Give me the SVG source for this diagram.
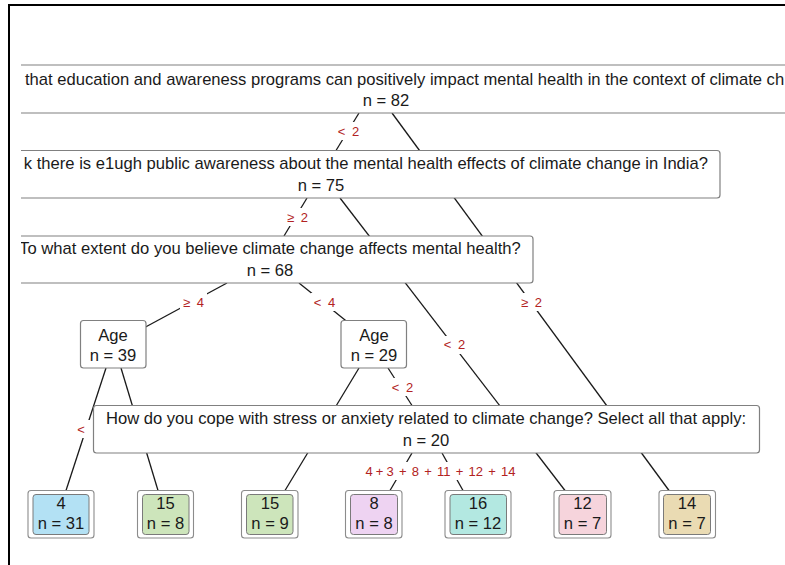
<svg xmlns="http://www.w3.org/2000/svg" width="785" height="565" viewBox="0 0 785 565">
<style>
.nb{fill:#fff;stroke:#808080;stroke-width:1.2}
.lo{fill:#fff;stroke:#8c8c8c;stroke-width:1.1}
.li{stroke:#7a7a7a;stroke-width:1}
.t{font-family:"Liberation Sans",Arial,sans-serif;font-size:16.6px;fill:#1a1a1a;text-anchor:middle}
.lab{font-family:"Liberation Sans",Arial,sans-serif;font-size:13px;fill:#b22222;text-anchor:middle;word-spacing:3px}
.edges line{stroke:#1a1a1a;stroke-width:1.3}
.lbg{fill:#fff}
</style>
<defs>
<clipPath id="panel"><rect x="21" y="0" width="764" height="565"/></clipPath>
</defs>
<rect x="0" y="0" width="785" height="565" fill="#fff"/>
<rect x="9" y="5" width="800" height="600" fill="none" stroke="#000" stroke-width="2"/>
<g clip-path="url(#panel)">
<g id="connectors" class="edges">
<line x1="359" y1="113" x2="336" y2="150.5"/>
<line x1="392" y1="113" x2="669" y2="490.5"/>
<line x1="307" y1="198" x2="284" y2="236"/>
<line x1="340" y1="198" x2="565" y2="490.5"/>
<line x1="227" y1="283" x2="140" y2="330"/>
<line x1="299" y1="283" x2="350" y2="324"/>
<line x1="106" y1="368" x2="66" y2="490.5"/>
<line x1="121" y1="368" x2="158" y2="490.5"/>
<line x1="359" y1="368" x2="285" y2="490.5"/>
<line x1="388" y1="368" x2="412" y2="405.5"/>
<line x1="412" y1="453" x2="390" y2="490.5"/>
<line x1="442" y1="453" x2="463" y2="490.5"/>
</g>
<g id="edge-labels">
<rect class="lbg" x="335" y="122" width="27" height="18"/>
<text class="lab" x="348.5" y="135.5">&lt; 2</text>
<rect class="lbg" x="518" y="293" width="27" height="18"/>
<text class="lab" x="531.5" y="306.5">≥ 2</text>
<rect class="lbg" x="284" y="208" width="27" height="18"/>
<text class="lab" x="297.5" y="221.5">≥ 2</text>
<rect class="lbg" x="441" y="336" width="27" height="18"/>
<text class="lab" x="454.5" y="349">&lt; 2</text>
<rect class="lbg" x="180" y="293" width="27" height="18"/>
<text class="lab" x="193.5" y="306.5">≥ 4</text>
<rect class="lbg" x="311" y="293" width="27" height="18"/>
<text class="lab" x="324.5" y="306.5">&lt; 4</text>
<rect class="lbg" x="389" y="378" width="27" height="18"/>
<text class="lab" x="402.5" y="391.5">&lt; 2</text>
<rect class="lbg" x="72" y="420" width="28" height="18"/>
<text class="lab" x="81" y="433.5">&lt;</text>
<rect class="lbg" x="363" y="462" width="40" height="18"/>
<text class="lab" x="365.5" y="476" style="text-anchor:start;word-spacing:-0.5px">4 +</text>
<rect class="lbg" x="383.5" y="462" width="136" height="18"/>
<text class="lab" x="451" y="476" style="word-spacing:1.6px">3 + 8 + 11 + 12 + 14</text>
</g>
<g id="node-root">
<rect class="nb" x="0" y="65" width="800" height="48" rx="3"/>
<text class="t" x="25" y="84.5" style="text-anchor:start">that education and awareness programs can positively impact mental health in the context of climate ch</text>
<text class="t" x="386" y="106">n = 82</text>
</g>
<g id="node-2">
<rect class="nb" x="-80" y="150.5" width="800" height="47.5" rx="3"/>
<text class="t" x="708" y="169" style="text-anchor:end">k there is e1ugh public awareness about the mental health effects of climate change in India?</text>
<text class="t" x="321" y="191">n = 75</text>
</g>
<g id="node-3">
<rect class="nb" x="7" y="236" width="526" height="47" rx="3"/>
<text class="t" x="270" y="254">To what extent do you believe climate change affects mental health?</text>
<text class="t" x="270" y="276">n = 68</text>
</g>
<g id="node-age1">
<rect class="nb" x="80.5" y="320.5" width="65.5" height="47.5" rx="3"/>
<text class="t" x="113" y="340.5">Age</text>
<text class="t" x="113" y="361">n = 39</text>
</g>
<g id="node-age2">
<rect class="nb" x="341" y="320.5" width="65.5" height="47.5" rx="3"/>
<text class="t" x="374" y="340.5">Age</text>
<text class="t" x="374" y="361">n = 29</text>
</g>
<g id="node-cope">
<rect class="nb" x="93.5" y="405.5" width="666" height="47.5" rx="3"/>
<text class="t" x="426" y="424">How do you cope with stress or anxiety related to climate change? Select all that apply:</text>
<text class="t" x="426" y="446">n = 20</text>
</g>
<g id="leaf-1">
<rect class="lo" x="28" y="490.5" width="66" height="47.5" rx="3"/>
<rect class="li" x="33" y="494.5" width="56" height="40" rx="3" fill="#b3e1f4"/>
<text class="t" x="61" y="509">4</text>
<text class="t" x="61" y="529">n = 31</text>
</g>
<g id="leaf-2">
<rect class="lo" x="137.5" y="490.5" width="56" height="47.5" rx="3"/>
<rect class="li" x="142.5" y="494.5" width="46.5" height="40" rx="3" fill="#cde5bb"/>
<text class="t" x="165.5" y="509">15</text>
<text class="t" x="165.5" y="529">n = 8</text>
</g>
<g id="leaf-3">
<rect class="lo" x="241.5" y="490.5" width="56.5" height="47.5" rx="3"/>
<rect class="li" x="246.5" y="494.5" width="46.5" height="40" rx="3" fill="#cde5bb"/>
<text class="t" x="270" y="509">15</text>
<text class="t" x="270" y="529">n = 9</text>
</g>
<g id="leaf-4">
<rect class="lo" x="345.5" y="490.5" width="56.5" height="47.5" rx="3"/>
<rect class="li" x="350.5" y="494.5" width="47" height="40" rx="3" fill="#eed3f2"/>
<text class="t" x="374" y="509">8</text>
<text class="t" x="374" y="529">n = 8</text>
</g>
<g id="leaf-5">
<rect class="lo" x="445" y="490.5" width="66" height="47.5" rx="3"/>
<rect class="li" x="450" y="494.5" width="56.5" height="40" rx="3" fill="#b3e8e1"/>
<text class="t" x="478" y="509">16</text>
<text class="t" x="478" y="529">n = 12</text>
</g>
<g id="leaf-6">
<rect class="lo" x="554" y="490.5" width="57" height="47.5" rx="3"/>
<rect class="li" x="559" y="494.5" width="47.5" height="40" rx="3" fill="#f6d4dc"/>
<text class="t" x="582.5" y="509">12</text>
<text class="t" x="582.5" y="529">n = 7</text>
</g>
<g id="leaf-7">
<rect class="lo" x="659" y="490.5" width="56.5" height="47.5" rx="3"/>
<rect class="li" x="663.5" y="494.5" width="47" height="40" rx="3" fill="#eadbb3"/>
<text class="t" x="687" y="509">14</text>
<text class="t" x="687" y="529">n = 7</text>
</g>
</g>
</svg>
